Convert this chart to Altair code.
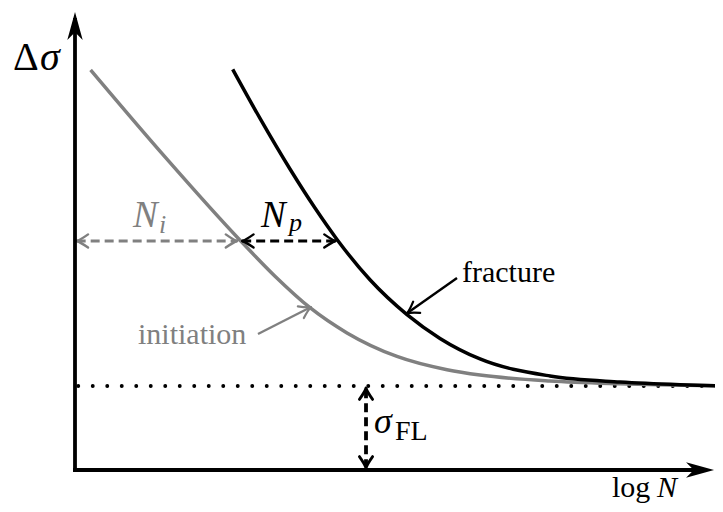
import altair as alt
import pandas as pd

# ---- schematic S-N diagram, arbitrary units: x = log N, y = delta sigma ----
# crack initiation curve (grey)
init_x = [0.245, 1.406, 2.578, 3.125, 3.672, 4.250, 5.031, 5.813, 6.328, 7.422, 8.516, 10.078]
init_y = [8.889, 6.958, 5.107, 4.307, 3.607, 3.047, 2.524, 2.229, 2.111, 1.978, 1.916, 1.871]
# fracture curve (black)
frac_x = [2.464, 2.891, 3.359, 3.750, 4.094, 4.609, 5.1875, 5.703, 6.328, 7.422, 8.516, 9.453, 10.078]
frac_y = [8.904, 7.813, 6.689, 5.822, 5.124, 4.227, 3.453, 2.924, 2.467, 2.089, 1.956, 1.896, 1.871]
fatigue_limit = 1.867          # sigma_FL
level_y = 5.089                # stress level of the N_i / N_p arrows
ni_start, ni_end = 0.026, 2.534
np_start, np_end = 2.612, 4.073
fl_x = 4.547
x_axis_end, y_axis_end = 9.7, 10.0
x_tip, y_tip = 9.985, 10.178

# label texts
up_text = ["Δ", "log", "FL", "fracture", "initiation"]
up_x = [-0.969, 8.391, 5.0, 6.047, 0.984]
up_y = [8.889, -0.6, 0.667, 4.178, 2.8]
up_size = [40, 30, 28, 30, 30]
up_color = ["black", "black", "black", "black", "#808080"]

it_text = ["σ", "N", "N", "i", "N", "p", "σ"]
it_x = [-0.547, 9.094, 0.906, 1.3125, 2.906, 3.344, 4.672]
it_y = [8.889, -0.6, 5.4, 5.267, 5.4, 5.311, 0.822]
it_size = [40, 30, 37, 26, 37, 26, 36]
it_color = ["black", "black", "#808080", "#808080", "black", "black", "black"]

GREY = "#808080"
XDOM = [-67 / 64, 640 / 64]
YDOM = [-34 / 45, 462 / 45]
FONT = "Liberation Serif"


def X(f):
    return alt.X(f, type="quantitative", axis=None,
                 scale=alt.Scale(domain=XDOM, nice=False, zero=False))


def Y(f):
    return alt.Y(f, type="quantitative", axis=None,
                 scale=alt.Scale(domain=YDOM, nice=False, zero=False))


init_df = pd.DataFrame({"x": init_x, "y": init_y})
frac_df = pd.DataFrame({"x": frac_x, "y": frac_y})

init_line = alt.Chart(init_df).mark_line(color=GREY, strokeWidth=3.5, interpolate="monotone").encode(
    x=X("x"), y=Y("y"), order="x:Q")
frac_line = alt.Chart(frac_df).mark_line(color="black", strokeWidth=3.5, interpolate="monotone").encode(
    x=X("x"), y=Y("y"), order="x:Q")

# dotted fatigue limit
dotted = alt.Chart(pd.DataFrame({"x": [0.05], "x2": [10.078], "y": [fatigue_limit]})).mark_rule(
    color="black", strokeWidth=3.8, strokeDash=[0.1, 14.4], strokeCap="round").encode(
    x=X("x"), x2="x2", y=Y("y"))

# axes
axes_df = pd.DataFrame({"x": [0, 0], "x2": [x_axis_end, 0], "y": [0, 0], "y2": [0, y_axis_end]})
axes = alt.Chart(axes_df).mark_rule(color="black", strokeWidth=3.8, strokeCap="square").encode(
    x=X("x"), x2="x2", y=Y("y"), y2="y2")

stealth = "M0,0L0.55,2L0,1.45L-0.55,2Z"
axis_heads = alt.Chart(pd.DataFrame({"x": [0, x_tip], "y": [y_tip, 0], "a": [0, 90]})).mark_point(
    shape=stealth, filled=True, size=784, opacity=1, color="black", strokeWidth=0).encode(
    x=X("x"), y=Y("y"), angle=alt.Angle("a:Q", scale=None))

# dashed dimension arrows
dash_df = pd.DataFrame({
    "x": [ni_start, np_start, fl_x],
    "x2": [ni_end, np_end, fl_x],
    "y": [level_y, level_y, fatigue_limit - 0.07],
    "y2": [level_y, level_y, 0.07],
    "c": [GREY, "black", "black"],
    "w": [2.8, 2.8, 3.8],
})
dashes = alt.Chart(dash_df).mark_rule(strokeDash=[9, 5]).encode(
    x=X("x"), x2="x2", y=Y("y"), y2="y2",
    color=alt.Color("c:N", scale=None), strokeWidth=alt.StrokeWidth("w:Q", scale=None))

# pointer lines for the curve labels
ptr_df = pd.DataFrame({"x": [5.969, 2.859], "x2": [5.1875, 3.6875],
                       "y": [4.267, 3.022], "y2": [3.482, 3.622], "c": ["black", GREY]})
pointers = alt.Chart(ptr_df).mark_rule(strokeWidth=2.4).encode(
    x=X("x"), x2="x2", y=Y("y"), y2="y2", color=alt.Color("c:N", scale=None))

# open arrow tips
tip_path = "M-0.55,0.95C-0.3,0.6 -0.06,0.2 0,0C0.06,0.2 0.3,0.6 0.55,0.95"
tips_df = pd.DataFrame({
    "x": [ni_start, ni_end, np_start, np_end, fl_x, fl_x, 5.1875, 3.6875],
    "y": [level_y, level_y, level_y, level_y, fatigue_limit - 0.045, 0.045, 3.482, 3.622],
    "a": [270, 90, 270, 90, 0, 180, 238.0, 63.0],
    "c": [GREY, GREY, "black", "black", "black", "black", "black", GREY],
    "w": [2.4, 2.4, 2.4, 2.4, 2.8, 2.8, 2.2, 2.2],
})
tips = alt.Chart(tips_df).mark_point(shape=tip_path, filled=False, size=576, opacity=1,
                                     strokeCap="round", strokeJoin="round").encode(
    x=X("x"), y=Y("y"), angle=alt.Angle("a:Q", scale=None),
    color=alt.Color("c:N", scale=None), strokeWidth=alt.StrokeWidth("w:Q", scale=None))

up_df = pd.DataFrame({"t": up_text, "x": up_x, "y": up_y, "s": up_size, "c": up_color})
it_df = pd.DataFrame({"t": it_text, "x": it_x, "y": it_y, "s": it_size, "c": it_color})
up_labels = alt.Chart(up_df).mark_text(align="left", baseline="alphabetic", font=FONT).encode(
    x=X("x"), y=Y("y"), text="t:N", size=alt.Size("s:Q", scale=None),
    color=alt.Color("c:N", scale=None))
it_labels = alt.Chart(it_df).mark_text(align="left", baseline="alphabetic", font=FONT,
                                       fontStyle="italic").encode(
    x=X("x"), y=Y("y"), text="t:N", size=alt.Size("s:Q", scale=None),
    color=alt.Color("c:N", scale=None))

chart = alt.layer(
    dotted, init_line, frac_line, dashes, pointers, tips, axes, axis_heads, up_labels, it_labels
).properties(
    width=707, height=496, padding=0, autosize=alt.AutoSizeParams(type="none"),
    background="white"
).configure_view(stroke=None)

chart.save("out.html", embed_options={"renderer": "svg", "actions": False})
